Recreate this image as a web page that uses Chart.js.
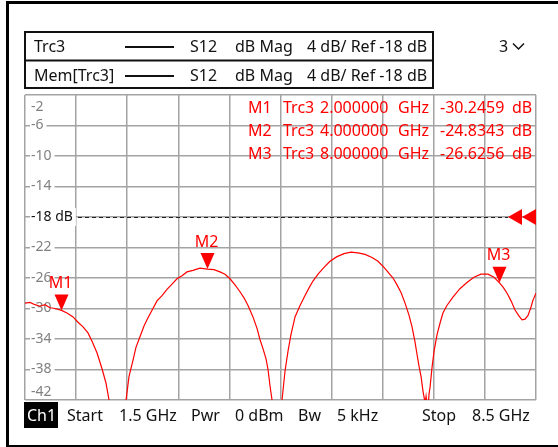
<!DOCTYPE html>
<html>
<head>
<meta charset="utf-8">
<script src="https://cdn.jsdelivr.net/npm/chart.js@4/dist/chart.umd.min.js"></script>
<style>
  html, body { margin: 0; padding: 0; background: #fff; }
  canvas { display: block; }
</style>
</head>
<body>
<canvas id="myChart" width="558" height="447"></canvas>
<script>
// trace Trc3, S12 in dB, frequency in GHz
let freqs = [
  1.500, 1.568, 1.637, 1.705, 1.774, 1.842, 1.911, 2.000, 2.075, 2.158,
  2.226, 2.295, 2.363, 2.418, 2.486, 2.555, 2.610, 2.651, 2.706, 2.760,
  2.815, 2.884, 2.925, 2.979, 3.020, 3.075, 3.130, 3.185, 3.253, 3.308,
  3.377, 3.445, 3.514, 3.582, 3.651, 3.719, 3.801, 3.897, 4.000, 4.089,
  4.171, 4.240, 4.308, 4.377, 4.445, 4.500, 4.555, 4.623, 4.678, 4.720,
  4.761, 4.802, 4.829, 4.857, 4.884, 4.939, 4.993, 5.021, 5.062, 5.103,
  5.144, 5.199, 5.268, 5.336, 5.391, 5.445, 5.514, 5.596, 5.678, 5.774,
  5.870, 5.966, 6.062, 6.158, 6.254, 6.336, 6.418, 6.487, 6.542, 6.596,
  6.651, 6.706, 6.761, 6.802, 6.843, 6.870, 6.898, 6.925, 6.953, 6.966,
  6.980, 6.994, 7.008, 7.021, 7.035, 7.049, 7.076, 7.104, 7.145, 7.186,
  7.225, 7.280, 7.362, 7.458, 7.554, 7.650, 7.746, 7.842, 7.925, 8.000,
  8.049, 8.104, 8.158, 8.213, 8.268, 8.309, 8.350, 8.391, 8.432, 8.459,
  8.500
];
let s12 = [
  -29.3, -29.2, -29.5, -29.7, -29.5, -29.9, -30.0, -30.25, -30.6, -31.1,
  -31.8, -32.4, -33.2, -34.3, -35.8, -37.9, -39.8, -42.0, -46.0, -52.0,
  -46.5, -42.0, -38.9, -36.8, -35.1, -33.7, -32.3, -31.2, -30.0, -29.0,
  -28.3, -27.5, -26.8, -26.1, -25.7, -25.2, -25.0, -24.7, -24.83, -24.9,
  -25.2, -25.5, -26.1, -26.9, -27.8, -28.6, -29.6, -31.1, -32.6, -34.1,
  -35.3, -36.6, -38.0, -40.2, -42.0, -49.0, -44.0, -42.0, -38.2, -35.6,
  -33.4, -31.1, -29.6, -28.3, -27.3, -26.4, -25.5, -24.6, -23.8, -23.2,
  -22.8, -22.6, -22.7, -22.9, -23.3, -23.8, -24.6, -25.4, -26.0, -26.9,
  -27.9, -29.3, -30.9, -32.4, -34.4, -36.0, -37.6, -38.9, -40.9, -41.6,
  -42.4, -41.5, -42.6, -43.0, -41.2, -40.3, -37.7, -35.6, -33.4, -31.9,
  -30.6, -29.6, -28.5, -27.4, -26.6, -25.9, -25.5, -25.5, -25.9, -26.63,
  -27.2, -28.0, -29.0, -30.2, -31.0, -31.5, -31.4, -30.9, -29.8, -28.9,
  -28.0
];

let markerNames = ["M1", "M2", "M3"];
let markerFreqs = [2.0, 4.0, 8.0];
let markerVals = [-30.2459, -24.8343, -26.6256];

let startGHz = 1.5;
let stopGHz = 8.5;
let refLevel = -18;
let dbPerDiv = 4;
let bottomDb = -42;
let topDb = -2;

let traceRows = [
  ["Trc3", "S12", "dB Mag", "4 dB/ Ref -18 dB"],
  ["Mem[Trc3]", "S12", "dB Mag", "4 dB/ Ref -18 dB"],
];
let statusItems = ["Start", "1.5 GHz", "Pwr", "0 dBm", "Bw", "5 kHz", "Stop", "8.5 GHz"];

const FONT = '"Noto Sans", "DejaVu Sans", sans-serif';
const RED = '#ff0000';

let analyzer = {
  id: 'analyzer',
  beforeDatasetsDraw(chart) {
    let c = chart.ctx, a = chart.chartArea, ys = chart.scales.y;
    c.save();
    // y labels with white backdrop, on top of the grid
    c.font = '14px ' + FONT;
    c.textBaseline = 'middle';
    for (const t of ys.ticks) {
      let txt = t.value === refLevel ? t.value + ' dB' : String(t.value);
      let py = ys.getPixelForValue(t.value);
      py = Math.min(Math.max(py, a.top + 12), a.bottom - 8);
      let w = c.measureText(txt).width;
      if (t.value !== topDb && t.value !== bottomDb) {
        c.fillStyle = '#fff';
        c.fillRect(a.left + 5, py - 9, w + 4, 18);
      }
      c.fillStyle = t.value === refLevel ? '#111' : '#808080';
      c.fillText(txt, a.left + 6, py);
    }
    // reference level dashed line
    let ry = Math.round(ys.getPixelForValue(refLevel)) + 0.5;
    c.strokeStyle = '#222';
    c.lineWidth = 1;
    c.setLineDash([4, 3]);
    c.beginPath();
    c.moveTo(a.left + 53, ry);
    c.lineTo(a.right - 28, ry);
    c.stroke();
    c.setLineDash([]);
    c.restore();
  },
  afterDatasetsDraw(chart) {
    let c = chart.ctx, a = chart.chartArea, xs = chart.scales.x, ys = chart.scales.y;
    c.save();

    // ref level arrows at right edge
    let ry = ys.getPixelForValue(refLevel);
    c.fillStyle = RED;
    for (const tip of [a.right - 28, a.right - 14]) {
      c.beginPath();
      c.moveTo(tip, ry);
      c.lineTo(tip + 14, ry - 8);
      c.lineTo(tip + 14, ry + 8);
      c.closePath();
      c.fill();
    }

    // markers
    c.font = '16px ' + FONT;
    c.textAlign = 'center';
    c.textBaseline = 'middle';
    markerFreqs.forEach((f, i) => {
      let px = xs.getPixelForValue(f);
      let py = ys.getPixelForValue(markerVals[i]);
      c.fillStyle = RED;
      c.beginPath();
      c.moveTo(px, py);
      c.lineTo(px - 7, py - 16);
      c.lineTo(px + 7, py - 16);
      c.closePath();
      c.fill();
      c.fillText(markerNames[i], px - 1, py - 27);
    });

    // marker table
    c.textAlign = 'left';
    markerFreqs.forEach((f, i) => {
      let ty = 108 + i * 23;
      c.fillText(markerNames[i], 248, ty);
      c.fillText('Trc3', 283, ty);
      c.fillText(f.toFixed(6), 320, ty);
      c.fillText('GHz', 398, ty);
      c.fillText(markerVals[i].toFixed(4), 440, ty);
      c.fillText('dB', 512, ty);
    });

    // trace info box
    c.strokeStyle = '#111';
    c.lineWidth = 2;
    c.strokeRect(25, 32, 408, 56);
    c.beginPath();
    c.moveTo(25, 60.5);
    c.lineTo(433, 60.5);
    c.stroke();
    c.fillStyle = '#111';
    traceRows.forEach((r, i) => {
      let ty = 47 + i * 29;
      c.fillText(r[0], 34, ty);
      c.fillText(r[1], 190, ty);
      c.fillText(r[2], 235, ty);
      c.fillText(r[3], 307, ty);
      c.beginPath();
      c.moveTo(125, ty);
      c.lineTo(174, ty);
      c.stroke();
    });
    c.fillText('3', 499, 47);
    c.lineWidth = 1.5;
    c.beginPath();
    c.moveTo(513, 43.5);
    c.lineTo(518.5, 49);
    c.lineTo(524, 43.5);
    c.stroke();

    // channel status bar
    c.fillStyle = '#000';
    c.fillRect(24, 402, 34, 26);
    c.fillStyle = '#fff';
    c.fillText('Ch1', 27, 416);
    c.fillStyle = '#111';
    let sx = [67, 119, 191, 235, 298, 337, 422, 472];
    statusItems.forEach((s, i) => c.fillText(s, sx[i], 416));

    // outer frame
    c.fillStyle = '#000';
    c.fillRect(6, 1, 3, 446);
    c.fillRect(6, 1, 552, 3);
    c.fillRect(6, 445, 552, 2);
    c.restore();
  }
};

var ctx = document.querySelector('#myChart').getContext('2d');
let gridStyle = { color: '#a3a3a3', lineWidth: 1.5, drawTicks: false };

let chart = new Chart(ctx, {
  type: 'line',
  data: {
    datasets: [{
      label: 'Trc3',
      data: freqs.map((f, i) => ({ x: f, y: s12[i] })),
      borderColor: RED,
      borderWidth: 1.2,
      pointRadius: 0,
      tension: 0,
    }],
  },
  options: {
    responsive: false,
    animation: false,
    layout: { padding: { left: 25, top: 95, right: 22, bottom: 47 } },
    plugins: { legend: { display: false }, tooltip: { enabled: false } },
    scales: {
      x: {
        type: 'linear', min: startGHz, max: stopGHz,
        ticks: { display: false, stepSize: (stopGHz - startGHz) / 10 },
        grid: gridStyle, border: { display: false },
      },
      y: {
        min: bottomDb, max: topDb,
        ticks: { display: false, stepSize: dbPerDiv },
        grid: gridStyle, border: { display: false },
      },
    },
  },
  plugins: [analyzer],
});
</script>
</body>
</html>
